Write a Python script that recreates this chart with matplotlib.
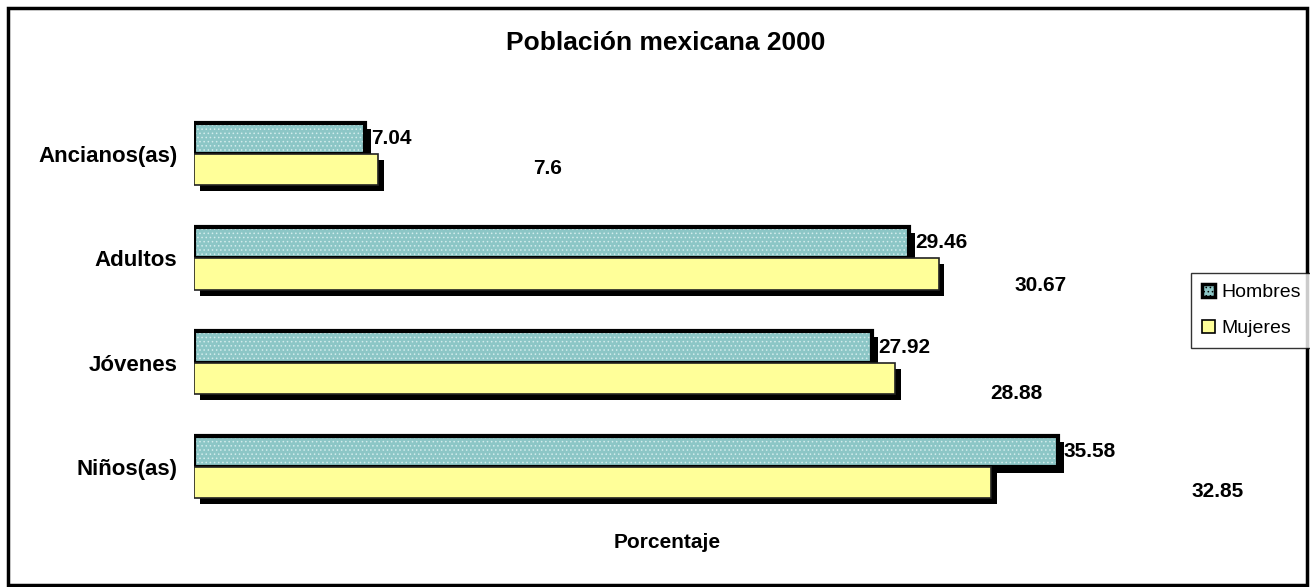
import matplotlib
matplotlib.use("Agg")
import matplotlib.pyplot as plt
import matplotlib.patheffects as pe
from matplotlib.patches import Patch, Rectangle
import numpy as np

plt.rcParams['font.family'] = ['Liberation Sans', 'DejaVu Sans']
plt.rcParams['hatch.linewidth'] = 0.6

# datos (de abajo hacia arriba)
categorias = ['Niños(as)', 'Jóvenes', 'Adultos', 'Ancianos(as)']
hombres = [35.58, 27.92, 29.46, 7.04]
mujeres = [32.85, 28.88, 30.67, 7.6]
series = ['Hombres', 'Mujeres']

# desplazamiento de las etiquetas de mujeres (pixeles) respecto al final de la barra
lab_dx_muj = [200, 95, 76, 155]
lab_dy_muj = [-9, -15, -11, 1]

W, H = 1310, 587
fig = plt.figure(figsize=(W / 100, H / 100), dpi=100)
ax = fig.add_axes([194 / W, 0.1158, 971 / W, 0.7104])

y = np.arange(len(categorias))
alto = 0.30
sombra = [pe.SimplePatchShadow(offset=(4.3, -4.3), shadow_rgbFace='black', alpha=1.0), pe.Normal()]

# sombra de hombres (barra negra lisa debajo)
sh = ax.barh(y + alto / 2, hombres, height=alto, color='black', linewidth=0, zorder=1)
for b in sh:
    b.set_path_effects(sombra)
ax.barh(y + alto / 2, hombres, height=alto, color='#8CC6C6', edgecolor='#D2ECEC',
        hatch='....', linewidth=0, zorder=2)
ax.barh(y + alto / 2, hombres, height=alto, fill=False, edgecolor='black', linewidth=3.0, zorder=3)

bm = ax.barh(y - alto / 2, mujeres, height=alto, color='#FFFF99', edgecolor='#222222',
             linewidth=1.2, zorder=4)
for b in bm:
    b.set_path_effects(sombra)

for i, v in enumerate(hombres):
    ax.annotate(f'{v:.2f}', (v, y[i] + alto / 2), xytext=(4.5, 0), textcoords='offset points',
                ha='left', va='center', fontsize=15, fontweight='bold', zorder=5)
for i, v in enumerate(mujeres):
    ax.annotate(f'{v:g}', (v, y[i] - alto / 2), xytext=(lab_dx_muj[i] * 0.72, lab_dy_muj[i] * 0.72),
                textcoords='offset points', ha='left', va='center', fontsize=15,
                fontweight='bold', annotation_clip=False, zorder=5)

ax.set_xlim(0, 40)
ax.set_ylim(-0.5, 3.5)
ax.set_yticks(y)
ax.set_yticklabels(categorias, fontsize=16, fontweight='bold')
ax.tick_params(axis='y', length=0, pad=12)
ax.set_xticks([])
for s in ax.spines.values():
    s.set_visible(False)

fig.text(666 / W, 1 - 43 / H, 'Población mexicana 2000', ha='center', va='center',
         fontsize=19, fontweight='bold')
fig.text(667 / W, 1 - 542 / H, 'Porcentaje', ha='center', va='center',
         fontsize=15, fontweight='bold')

handles = [Patch(facecolor='#8CC6C6', edgecolor='black', linewidth=2.5, hatch='....'),
           Patch(facecolor='#FFFF99', edgecolor='black', linewidth=1.2)]
leg = fig.legend(handles, series, loc='upper left', bbox_to_anchor=(1191 / W, 1 - 273 / H),
                 bbox_transform=fig.transFigure, borderaxespad=0, fancybox=False,
                 frameon=True, edgecolor='black', fontsize=14, handlelength=0.7,
                 handleheight=0.7, handletextpad=0.3, labelspacing=0.95, borderpad=0.55)
leg.get_frame().set_linewidth(1.0)

fig.patches.append(Rectangle((8 / W, 2 / H), 1299 / W, 577 / H, transform=fig.transFigure,
                             fill=False, edgecolor='black', linewidth=2.5))

fig.savefig('out.png', dpi=100)
